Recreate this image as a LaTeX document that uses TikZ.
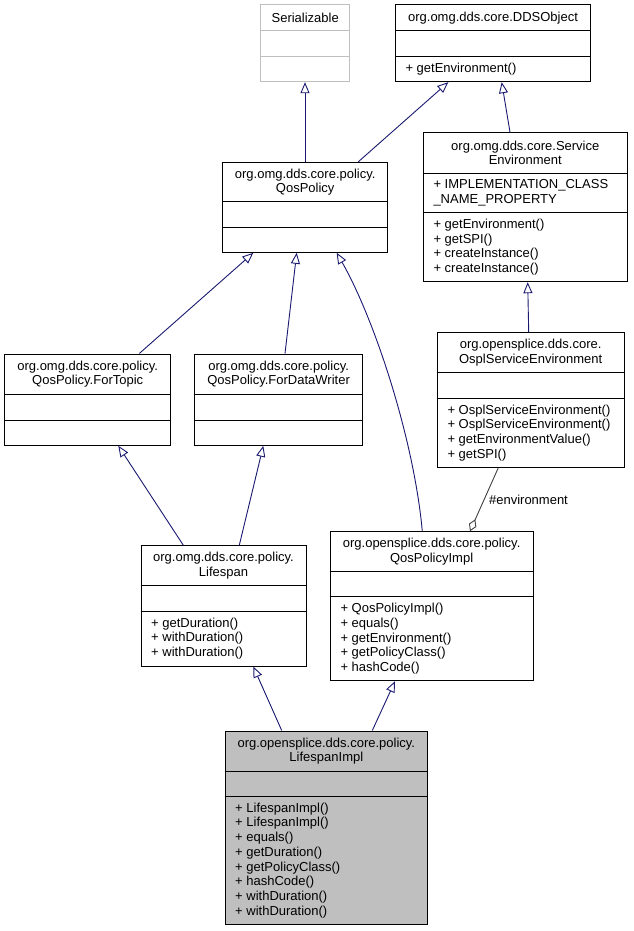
\documentclass[tikz,border=0pt]{standalone}
\usepackage{fontspec}
\setmainfont{Liberation Sans}
\usetikzlibrary{arrows.meta}
\definecolor{edgeblue}{HTML}{191970}
\definecolor{boxgrey}{HTML}{BFBFBF}
\definecolor{linegrey}{HTML}{404040}

\begin{document}
\begin{tikzpicture}[x=1pt, y=-1pt, line join=miter,
    font=\fontsize{13}{14.7}\selectfont,
    cls/.style={draw=black, line width=1pt, inner sep=0pt, fill=white},
    ext/.style={cls, draw=boxgrey},
    cur/.style={cls, fill=boxgrey},
    ttl/.style={inner sep=0pt, align=center},
    txt/.style={inner sep=0pt, align=left, anchor=west},
    inh/.style={draw=edgeblue, line width=0.9pt, -{Triangle[open, length=11pt, width=9pt]}},
    agg/.style={draw=linegrey, line width=0.9pt, -{Diamond[open, length=13pt, width=8pt]}}]
  \useasboundingbox (0,0) rectangle (633,931);

  % classes: name/style/divider colour/x1/y1/x2/y2/divider 1/divider 2/title
  \foreach \n/\s/\c/\xa/\ya/\xb/\yb/\da/\db/\t in {
      ser/ext/boxgrey/260.7/5/349.7/81.7/31/56.7/{Serializable},
      dds/cls/black/395.3/5/590.7/81.7/31/56.7/{org.omg.dds.core.DDSObject},
      qos/cls/black/222.7/162.3/387.7/252.3/201.7/227.7/{org.omg.dds.core.policy.\\QosPolicy},
      senv/cls/black/423.3/132.7/627.3/281.7/173/212.3/{org.omg.dds.core.Service\\Environment},
      ftop/cls/black/4.7/354/170.7/445.3/394.3/420/{org.omg.dds.core.policy.\\QosPolicy.ForTopic},
      fdw/cls/black/194.5/354/362.7/445.3/394.3/420/{org.omg.dds.core.policy.\\QosPolicy.ForDataWriter},
      osenv/cls/black/437.3/332.7/624/467.3/372.3/398/{org.opensplice.dds.core.\\OsplServiceEnvironment},
      lsp/cls/black/141/545.7/306/666/585.7/611/{org.omg.dds.core.policy.\\Lifespan},
      qimpl/cls/black/330.3/531.7/533/680.7/571/596.7/{org.opensplice.dds.core.policy.\\QosPolicyImpl},
      limpl/cur/black/225/731/427.7/924.3/771/796.3/{org.opensplice.dds.core.policy.\\LifespanImpl}}
  {
    \node[\s, minimum width={(\xb-\xa)*1pt}, minimum height={(\yb-\ya)*1pt}]
      (\n) at ({(\xa+\xb)/2},{(\ya+\yb)/2}) {};
    \draw[\c, line width=1pt] (\n.west |- 0,\da) -- (\n.east |- 0,\da)
      (\n.west |- 0,\db) -- (\n.east |- 0,\db);
    \node[ttl] (\n-t) at ({(\xa+\xb)/2},{(\ya+\da)/2}) {\t};
  }

  % members
  \node[txt] (dds-m) at (405.3,69.2) {+ getEnvironment()};
  \node[txt] (senv-a) at (433.3,192.7) {+ IMPLEMENTATION\_CLASS\\\_NAME\_PROPERTY};
  \node[txt] (senv-m) at (433.3,247) {+ getEnvironment()\\+ getSPI()\\+ createInstance()\\+ createInstance()};
  \node[txt] (osenv-m) at (447.3,432.7) {+ OsplServiceEnvironment()\\+ OsplServiceEnvironment()\\+ getEnvironmentValue()\\+ getSPI()};
  \node[txt] (lsp-m) at (151,638.5) {+ getDuration()\\+ withDuration()\\+ withDuration()};
  \node[txt] (qimpl-m) at (340.3,638.7) {+ QosPolicyImpl()\\+ equals()\\+ getEnvironment()\\+ getPolicyClass()\\+ hashCode()};
  \node[txt] (limpl-m) at (235,860.3) {+ LifespanImpl()\\+ LifespanImpl()\\+ equals()\\+ getDuration()\\+ getPolicyClass()\\+ hashCode()\\+ withDuration()\\+ withDuration()};

  % generalisations
  \draw[inh] (qos.north -| 305,0) -- (ser.south -| 305,0);
  \draw[inh] (qos.north -| 358.3,0) -- (dds.south -| 448.3,0);
  \draw[inh] (senv.north -| 510,0) -- (dds.south -| 501.7,0);
  \draw[inh] (ftop.north -| 139.3,0) -- (qos.south -| 253.3,0);
  \draw[inh] (fdw.north -| 285,0) -- (qos.south -| 296.7,0);
  \draw[inh] (qimpl.north -| 422.3,0) .. controls (414,440) and (375,320) .. (qos.south -| 336.7,0);
  \draw[inh] (osenv.north -| 528.7,0) -- (senv.south -| 527.7,0);
  \draw[inh] (lsp.north -| 183.3,0) -- (ftop.south -| 118.3,0);
  \draw[inh] (lsp.north -| 239.3,0) -- (fdw.south -| 263.3,0);
  \draw[inh] (limpl.north -| 281.7,0) -- (lsp.south -| 253.3,0);
  \draw[inh] (limpl.north -| 372.3,0) -- (qimpl.south -| 395,0);

  % aggregation
  \draw[agg] (osenv.south -| 498.3,0) -- node[midway, anchor=west, inner sep=0pt, xshift=4.5pt] (env) {\#environment} (qimpl.north -| 470,0);
\end{tikzpicture}
\end{document}
